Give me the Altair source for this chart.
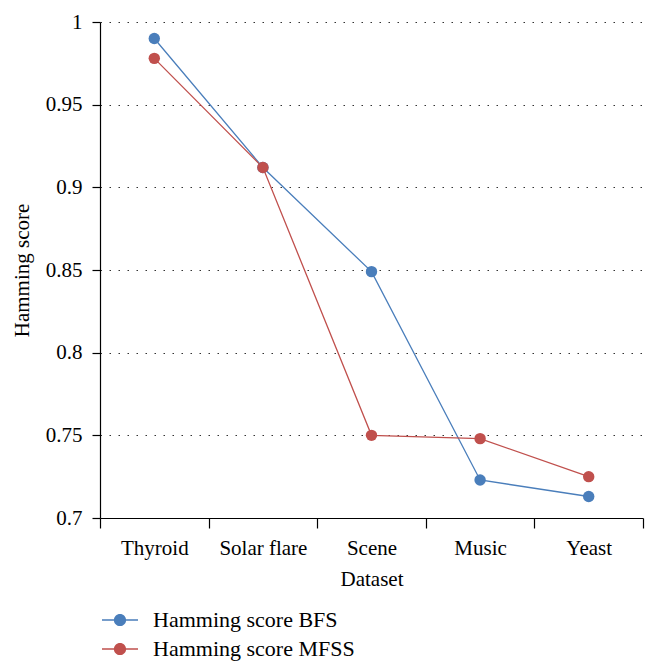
import altair as alt
import pandas as pd

categories = ["Thyroid", "Solar flare", "Scene", "Music", "Yeast"]
bfs = [0.990, 0.912, 0.849, 0.723, 0.713]
mfss = [0.978, 0.912, 0.750, 0.748, 0.725]
series_names = ["Hamming score BFS", "Hamming score MFSS"]
colors = ["#4a7ebb", "#c0504d"]
y_ticks = [0.7, 0.75, 0.8, 0.85, 0.9, 0.95, 1.0]

rows = []
for name, vals in zip(series_names, [bfs, mfss]):
    for i, (c, v) in enumerate(zip(categories, vals)):
        rows.append({"Dataset": c, "pos": i + 0.5, "series": name, "value": v})
df = pd.DataFrame(rows)

n = len(categories)
x_vals = [i * 0.5 for i in range(2 * n + 1)]
names_js = "[" + ",".join("'" + c + "'" for c in categories) + "]"
label_expr = f"datum.value % 1 === 0 ? '' : {names_js}[floor(datum.value)]"

FONT = "Liberation Serif"

symbol_path = ("M-1,-0.04H1V0.04H-1Z "
               "M0.34,0A0.34,0.34 0 1,1 -0.34,0A0.34,0.34 0 1,1 0.34,0Z")

x_enc = alt.X(
    "pos:Q",
    scale=alt.Scale(domain=[0, n], nice=False, zero=False),
    axis=alt.Axis(
        values=x_vals,
        labelExpr=label_expr,
        tickOpacity={"condition": {"test": "datum.value % 1 !== 0", "value": 0}, "value": 1},
        tickSize=10,
        tickColor="black",
        domainColor="black",
        tickWidth=1.2,
        domainWidth=1.2,
        grid=False,
        labelFont=FONT,
        labelFontSize=21,
        labelColor="black",
        labelPadding=9,
        labelFlush=False,
        labelOverlap=False,
        title="Dataset",
        titleFont=FONT,
        titleFontSize=21,
        titleFontWeight="normal",
        titleColor="black",
        titlePadding=10,
    ),
)

y_enc = alt.Y(
    "value:Q",
    scale=alt.Scale(domain=[0.7, 1.0], nice=False, zero=False),
    axis=alt.Axis(
        values=y_ticks,
        format=".2~f",
        tickSize=8,
        tickColor="black",
        domainColor="black",
        tickWidth=1.2,
        domainWidth=1.2,
        grid=True,
        gridDash=[1.5, 7.5],
        gridColor="#333333",
        gridWidth=1,
        gridOpacity={"condition": {"test": "datum.value <= 0.7001", "value": 0}, "value": 1},
        labelFont=FONT,
        labelFontSize=21,
        labelColor="black",
        labelPadding=10,
        title="Hamming score",
        titleFont=FONT,
        titleFontSize=21,
        titleFontWeight="normal",
        titleColor="black",
        titlePadding=13,
    ),
)

color_enc = alt.Color(
    "series:N",
    scale=alt.Scale(domain=series_names, range=colors),
    legend=alt.Legend(
        title=None,
        orient="none",
        legendX=2,
        legendY=580,
        direction="vertical",
        symbolType=symbol_path,
        symbolSize=1296,
        symbolStrokeWidth=0,
        symbolOpacity=1,
        labelFont=FONT,
        labelFontSize=22,
        labelColor="black",
        labelOffset=15,
        labelLimit=500,
        rowPadding=0,
    ),
)

base = alt.Chart(df).encode(x=x_enc, y=y_enc, color=color_enc, detail="series:N")

lines = base.mark_line(strokeWidth=1.3)
points = base.mark_point(filled=True, size=130, opacity=1, shape="circle")

chart = (
    alt.layer(lines, points)
    .properties(
        width=543,
        height=496,
        autosize=alt.AutoSizeParams(type="none"),
        padding={"left": 92, "top": 14, "right": 6, "bottom": 152},
        background="white",
    )
    .configure_view(stroke=None)
)

chart.save("out.html", embed_options={"renderer": "svg", "actions": False})
